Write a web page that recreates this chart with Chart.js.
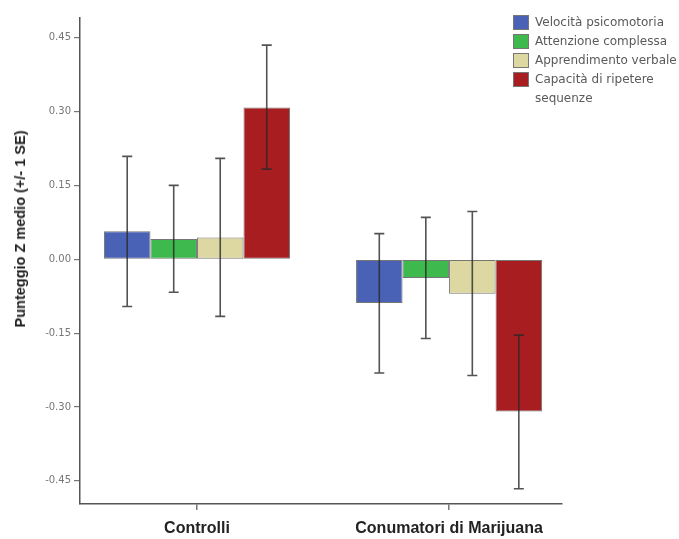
<!DOCTYPE html>
<html>
<head>
    <meta charset="utf-8">
    <title>Punteggio Z medio</title>
    <style>
        body {
            margin: 0;
            padding: 0;
            background-color: #ffffff;
            font-family: "DejaVu Sans", Arial, sans-serif;
        }

        .wrap {
            position: relative;
            width: 679px;
            height: 539px;
        }

        /* legend drawn as html, labels can wrap on two lines */
        #legend {
            position: absolute;
            left: 513px;
            top: 13px;
            width: 166px;
            font-size: 12px;
            color: #5a5a5a;
            line-height: 19px;
        }

        #legend .item {
            display: flex;
            align-items: flex-start;
        }

        #legend .box {
            width: 16px;
            height: 15px;
            margin-top: 2px;
            margin-right: 6px;
            flex: none;
            box-sizing: border-box;
            border: 1px solid #777777;
        }

        /* rotated y axis title */
        #ytitle {
            position: absolute;
            left: 20px;
            top: 229px;
            transform: translate(-50%, -50%) rotate(-90deg);
            white-space: nowrap;
            font-family: "Liberation Sans", Arial, sans-serif;
            font-weight: bold;
            font-size: 14.5px;
            color: #222222;
        }
    </style>
    <script src="https://cdn.jsdelivr.net/npm/chart.js"></script>
    <script>
        // data
        const groups = ['Controlli', 'Conumatori di Marijuana'];
        const seriesNames = ['Velocità psicomotoria', 'Attenzione complessa', 'Apprendimento verbale', 'Capacità di ripetere sequenze'];
        const velocita = [0.057, -0.089];
        const attenzione = [0.041, -0.038];
        const apprendimento = [0.044, -0.070];
        const ripetere = [0.308, -0.309];
        // +/- 1 SE, low and high ends
        const velocitaErr = [[-0.096, 0.209], [-0.231, 0.052]];
        const attenzioneErr = [[-0.067, 0.150], [-0.161, 0.085]];
        const apprendimentoErr = [[-0.116, 0.205], [-0.236, 0.097]];
        const ripetereErr = [[0.183, 0.435], [-0.466, -0.154]];
        const yTicks = [-0.45, -0.30, -0.15, 0.00, 0.15, 0.30, 0.45];
        const yTitle = 'Punteggio Z medio (+/- 1 SE)';
        const colors = ['#4a62b6', '#3db94e', '#ddd7a2', '#a81d20'];

        document.addEventListener("DOMContentLoaded", function() {
            const values = [velocita, attenzione, apprendimento, ripetere];
            const errors = [velocitaErr, attenzioneErr, apprendimentoErr, ripetereErr];

            document.getElementById('ytitle').textContent = yTitle;

            // legend
            const legend = document.getElementById('legend');
            seriesNames.forEach(function(name, i) {
                const item = document.createElement('div');
                item.className = 'item';
                const box = document.createElement('span');
                box.className = 'box';
                box.style.backgroundColor = colors[i];
                const txt = document.createElement('span');
                txt.textContent = name;
                txt.style.width = '146px';
                item.appendChild(box);
                item.appendChild(txt);
                legend.appendChild(item);
            });

            const errorBars = {
                id: 'errorBars',
                afterDatasetsDraw(chart) {
                    const ctx = chart.ctx;
                    const y = chart.scales.y;
                    ctx.save();
                    ctx.strokeStyle = 'rgba(40,40,40,0.8)';
                    ctx.lineWidth = 1.6;
                    chart.data.datasets.forEach(function(ds, i) {
                        const meta = chart.getDatasetMeta(i);
                        meta.data.forEach(function(bar, j) {
                            const lo = y.getPixelForValue(errors[i][j][0]);
                            const hi = y.getPixelForValue(errors[i][j][1]);
                            const x = bar.x;
                            ctx.beginPath();
                            ctx.moveTo(x, lo); ctx.lineTo(x, hi);
                            ctx.moveTo(x - 5, lo); ctx.lineTo(x + 5, lo);
                            ctx.moveTo(x - 5, hi); ctx.lineTo(x + 5, hi);
                            ctx.stroke();
                        });
                    });
                    ctx.restore();
                }
            };

            const ctx = document.getElementById('myChart').getContext('2d');
            new Chart(ctx, {
                type: 'bar',
                data: {
                    datasets: values.map(function(v, i) {
                        return {
                            label: seriesNames[i],
                            data: v.map(function(val, j) { return { x: j + 1, y: val }; }),
                            backgroundColor: colors[i],
                            borderColor: 'rgba(60,60,60,0.7)',
                            borderWidth: 1,
                            borderSkipped: false,
                            barPercentage: 1.0,
                            categoryPercentage: 0.738
                        };
                    })
                },
                plugins: [errorBars],
                options: {
                    responsive: false,
                    animation: false,
                    layout: { padding: { top: 18, right: 117, left: 0, bottom: 0 } },
                    plugins: {
                        legend: { display: false },
                        tooltip: { enabled: false }
                    },
                    scales: {
                        x: {
                            type: 'linear',
                            offset: false,
                            min: 0.536,
                            max: 2.448,
                            afterFit: function(s) { s.height = 35; },
                            afterBuildTicks: function(s) {
                                s.ticks = groups.map(function(g, j) { return { value: j + 1 }; });
                            },
                            grid: {
                                offset: false,
                                drawOnChartArea: false,
                                tickLength: 6,
                                tickColor: '#777777',
                                lineWidth: 1.5
                            },
                            border: { color: '#555555', width: 1.5 },
                            ticks: {
                                color: '#222222',
                                padding: 9,
                                maxRotation: 0,
                                autoSkip: false,
                                font: { family: 'Liberation Sans', size: 16, weight: 'bold' },
                                callback: function(v) { return groups[Math.round(v) - 1]; }
                            }
                        },
                        y: {
                            min: -0.497,
                            max: 0.49,
                            afterFit: function(s) { s.width = 80; },
                            afterBuildTicks: function(s) {
                                s.ticks = yTicks.map(function(t) { return { value: t }; });
                            },
                            grid: {
                                drawOnChartArea: false,
                                tickLength: 6,
                                tickColor: '#777777',
                                lineWidth: 1.2
                            },
                            border: { color: '#555555', width: 1.5 },
                            ticks: {
                                color: '#777777',
                                padding: 3,
                                font: { family: 'DejaVu Sans', size: 10 },
                                callback: function(v) { return Number(v).toFixed(2); }
                            }
                        }
                    }
                }
            });
        });
    </script>
</head>
<body>
    <div class="wrap">
        <canvas id="myChart" width="679" height="539"></canvas>
        <div id="ytitle"></div>
        <div id="legend"></div>
    </div>
</body>
</html>
